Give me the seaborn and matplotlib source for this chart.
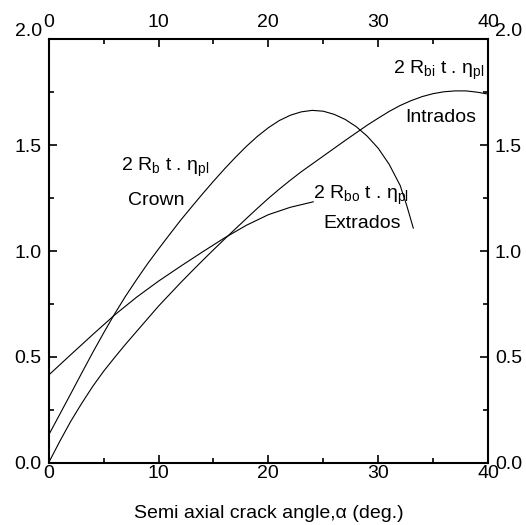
import numpy as np
import pandas as pd
import matplotlib.pyplot as plt
import matplotlib.transforms as mtransforms
import seaborn as sns

plt.switch_backend('Agg')

# Curve data (x = semi axial crack angle, deg.)
crown_x = [0, 1, 2, 3, 4, 5, 6, 7, 8, 9, 10, 11, 12, 13, 14, 15, 16, 17, 18,
           19, 20, 21, 22, 23, 24, 25, 26, 27, 28, 29, 30, 31, 32, 32.6, 33.2]
crown_y = [0.131, 0.228, 0.325, 0.423, 0.52, 0.613, 0.703, 0.787, 0.865, 0.94,
           1.01, 1.078, 1.145, 1.208, 1.27, 1.33, 1.388, 1.443, 1.495, 1.542,
           1.583, 1.617, 1.642, 1.658, 1.665, 1.661, 1.646, 1.622, 1.588,
           1.543, 1.486, 1.41, 1.31, 1.215, 1.108]

intrados_x = list(range(0, 41))
intrados_y = [0.0, 0.10, 0.195, 0.28, 0.36, 0.432, 0.497, 0.56, 0.62, 0.68,
              0.74, 0.795, 0.85, 0.903, 0.955, 1.006, 1.056, 1.105, 1.154,
              1.202, 1.249, 1.293, 1.335, 1.375, 1.412, 1.449, 1.486, 1.523,
              1.559, 1.595, 1.628, 1.66, 1.688, 1.711, 1.73, 1.744, 1.753,
              1.757, 1.757, 1.751, 1.742]

extrados_x = [0, 2, 4, 6, 8, 10, 12, 14, 16, 18, 20, 22, 24.1]
extrados_y = [0.414, 0.51, 0.605, 0.698, 0.782, 0.858, 0.928, 0.996, 1.062,
              1.122, 1.172, 1.207, 1.233]

x_ticks = [0, 10, 20, 30, 40]
y_ticks = [0.0, 0.5, 1.0, 1.5, 2.0]

sns.set_theme(style='ticks')
plt.rcParams['font.family'] = ['Liberation Sans', 'DejaVu Sans']
plt.rcParams['mathtext.fontset'] = 'custom'
plt.rcParams['mathtext.rm'] = 'Liberation Sans'
plt.rcParams['mathtext.it'] = 'Liberation Sans'
for key in ['text.color', 'axes.labelcolor', 'xtick.color', 'ytick.color']:
    plt.rcParams[key] = 'black'

fig = plt.figure(figsize=(5.26, 5.25), dpi=100)
ax = fig.add_axes([0.0926, 0.1187, 0.8352, 0.8061])

for xs, ys in [(crown_x, crown_y), (intrados_x, intrados_y), (extrados_x, extrados_y)]:
    df = pd.DataFrame({'x': xs, 'y': ys})
    sns.lineplot(data=df, x='x', y='y', ax=ax, color='black', linewidth=0.8,
                 sort=False, estimator=None)

ax.set_xlim(0, 40)
ax.set_ylim(0, 2.0)
ax.set_xticks(x_ticks)
ax.set_yticks(y_ticks)
ax.set_xticks(np.arange(5, 40, 10), minor=True)
ax.set_yticks(np.arange(0.25, 2.0, 0.5), minor=True)
ax.set_yticklabels([f'{v:.1f}' for v in y_ticks])

ax.tick_params(which='both', direction='in', top=True, right=True,
               labeltop=True, labelright=True, labelsize=14)
ax.tick_params(which='major', length=6, width=1.2)
ax.tick_params(which='minor', length=3.5, width=1.2)
ax.tick_params(axis='x', which='major', pad=2)
ax.tick_params(axis='y', which='major', pad=5)
# top x labels sit a little higher than the bottom ones
for t in ax.xaxis.get_major_ticks():
    t.label2.set_transform(t.label2.get_transform() +
                           mtransforms.ScaledTranslation(0, 4 / 72, fig.dpi_scale_trans))
# the top "2.0" labels sit a bit higher in the reference
for t in ax.yaxis.get_major_ticks()[-1:]:
    for lab in (t.label1, t.label2):
        lab.set_transform(lab.get_transform() +
                          mtransforms.ScaledTranslation(0, 7 / 72, fig.dpi_scale_trans))
for spine in ax.spines.values():
    spine.set_linewidth(1.5)
    spine.set_color('black')

ax.set_xlabel('Semi axial crack angle,\u03b1 (deg.)', fontsize=14, labelpad=16)
ax.set_ylabel('')

eta = '\u03b7'
kw = dict(fontsize=14, ha='left', va='baseline')
ax.text(31.38, 1.836, r'2 R$_{\rm bi}$ t . ' + eta + r'$_{\rm pl}$', **kw)
ax.text(32.5, 1.611, 'Intrados', **kw)
ax.text(6.56, 1.378, r'2 R$_{\rm b}$ t . ' + eta + r'$_{\rm pl}$', **kw)
ax.text(7.19, 1.218, 'Crown', **kw)
ax.text(24.04, 1.245, r'2 R$_{\rm bo}$ t . ' + eta + r'$_{\rm pl}$', **kw)
ax.text(25.0, 1.108, 'Extrados', **kw)

plt.savefig('out.png', dpi=100)
